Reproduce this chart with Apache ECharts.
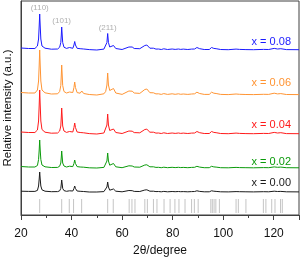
<!DOCTYPE html>
<html><head><meta charset="utf-8">
<script src="https://cdn.jsdelivr.net/npm/echarts@6/dist/echarts.min.js"></script>
<style>html,body{margin:0;padding:0;background:#fff}#c{width:300px;height:258px}</style>
</head><body><div id="c"></div>
<script>
// shared 2θ grid (degrees)
const twoTheta = [20,23,25.5,26.5,26.95,27.2,27.4,27.6,27.85,28.3,29.5,32,34.5,35.3,35.75,35.95,36.1,36.3,36.5,37.0,38.0,38.7,39.2,39.8,40.5,40.95,41.25,41.55,42.2,43.4,44.05,44.8,47,50,52.8,53.5,54.0,54.3,54.6,55.1,55.8,56.6,57.5,60,62.7,63.3,64.0,64.8,65.5,67,69.0,69.8,71,72.4,73.4,74.4,75.5,76.5,78,79.8,81,82.3,83.2,84.2,86,87.5,88.7,89.6,90.7,92.5,94.5,95.4,96.3,97.2,99,102,105.1,106.5,109,112,116,118,120.2,121.5,122.8,125,130];
// relative intensities above each pattern's own baseline (a.u.)
const int000 = [0.8,0.6,0.6,1.6,6,13,20,13,6,2.2,0.8,0.3,0.4,1.2,3.6,8,12,8,3.6,1.4,0.7,0.8,1.2,0.7,1.0,3.5,6,3.5,1.0,0.7,1.5,0.5,0,0,0.4,1.4,5,10,5,1.8,1.3,3,0.8,0.2,1.5,1,1.3,0.6,0.6,0.5,2,2.2,0.8,0.8,0.4,0.5,0.2,0.6,0.2,0.5,0.3,0.5,0.3,0.4,0.2,0.4,0.5,1.2,0.6,0.2,0.2,1.2,0.8,0.6,0.2,0.1,0.4,0.3,0.2,0.1,0.3,0.2,0.8,0.5,0.6,0.2,0.1];
const int002 = [1.5,1,1,2.5,8.5,18,28,18,8.5,3,1.2,0.5,0.6,1.8,5,11,17,11,5,2,1,1.2,1.8,1,1.4,4.5,8,4.5,1.4,1,2.2,0.8,0.2,0,0.6,2,7,15,7,2.8,2,4.5,1.2,0.3,2.2,1.5,2,1,1,0.8,3,3.2,1.2,1.2,0.6,0.7,0.3,0.8,0.3,0.7,0.4,0.7,0.4,0.6,0.3,0.6,0.7,1.7,0.9,0.3,0.3,1.7,1.1,0.9,0.3,0.2,0.6,0.4,0.3,0.2,0.4,0.3,1.1,0.7,0.9,0.3,0.2];
const int004 = [2,1.5,1.5,4,13,29,44,29,13,4.5,1.8,0.8,1,3,8,17,26,17,8,3,1.6,1.7,2.5,1.5,2,6.5,11,6.5,2,1.5,3.5,1.2,0.4,0,1,3,9,20,9,3.5,3,5,1.5,0.5,3,2,2.8,1.4,1.4,1.2,4.5,4.8,1.8,1.8,0.9,1,0.5,1.2,0.5,1,0.6,1,0.6,0.9,0.5,0.9,1,2.5,1.3,0.5,0.5,2.5,1.6,1.3,0.5,0.3,0.9,0.6,0.4,0.3,0.6,0.5,1.6,1,1.3,0.4,0.3];
const int006 = [2.5,2,2,5,14,30,45,30,14,5,2.2,1,1.2,3.5,9.5,20,30,20,9.5,3.5,2,2.2,3,2,2.5,7.5,13,7.5,2.4,1.8,4,1.5,0.5,0,1.2,3.5,10,22,10,4.5,4,6.5,2,0.6,4,2.8,3.8,2,2,1.6,5.5,6,2.3,2.2,1.1,1.2,0.6,1.4,0.6,1.2,0.7,1.2,0.7,1,0.6,1,1.2,2.8,1.5,0.6,0.6,2.8,1.8,1.5,0.6,0.4,1,0.7,0.5,0.4,0.7,0.6,1.8,1.1,1.4,0.5,0.4];
const int008 = [2,1.5,1.5,4,11,24,36,24,11,4,1.8,0.8,1,2.8,7.5,15,23,15,7.5,2.8,1.6,1.7,2.5,1.5,1.7,5,8.5,5,1.7,1.3,2.5,1,0.4,0,0.9,2.5,7.5,16.5,7.5,3,3,4.5,1.5,0.5,3,2.2,3,1.5,1.5,1.3,4.5,5,1.8,1.8,0.9,1,0.5,1.2,0.5,1,0.6,1,0.6,0.9,0.5,0.9,1,2.5,1.3,0.5,0.5,2.5,1.6,1.3,0.5,0.3,0.9,0.6,0.4,0.3,0.6,0.5,1.6,1,1.3,0.4,0.3];
const seriesNames = ['x = 0.00','x = 0.02','x = 0.04','x = 0.06','x = 0.08'];
// reference pattern line positions (2θ)
const refLines = [27.4,36.1,39.1,40.8,44.0,54.3,56.5,62.8,63.9,65.1,69.0,70.0,72.4,73.8,76.6,79.0,80.9,82.5,84.9,87.5,88.6,90.1,95.1,95.7,96.4,97.1,98.5,105.1,106.0,109.0,115.9,116.9,119.2,120.5,122.7,123.4];
// peak labels
const peakLabels = ['(110)','(101)','(211)'];
const peakPos = [27.4,36.1,54.3];

// layout / styling
const offsets = [23,47,81,120,165];
const colors = ['#1a1a1a','#0a9a0a','#ff1a1a','#ff9433','#1a1aff'];
const labelY = [183,162,125,83,42];
const ints = [int000,int002,int004,int006,int008];

const chart = echarts.init(document.getElementById('c'), null, {renderer:'canvas'});
const font = 'Liberation Sans';
const lineSeries = ints.map((arr,k)=>({
  type:'line', name:seriesNames[k],
  data: twoTheta.map((t,i)=>[t, arr[i]+offsets[k]]),
  showSymbol:false, symbol:'none', smooth:false,
  lineStyle:{color:colors[k], width:1},
  itemStyle:{color:colors[k]},
  z:3
}));
const blueIdx = peakPos.map(p=>twoTheta.indexOf(p));
const option = {
  animation:false,
  grid:{left:21, right:1, top:1, bottom:43, show:true, borderColor:'#404040', borderWidth:1,
    containLabel:false, outerBoundsMode:'none'},
  xAxis:{type:'value', min:20, max:130, interval:20,
    axisLine:{lineStyle:{color:'#404040'}},
    axisTick:{length:5, lineStyle:{color:'#404040'}},
    minorTick:{show:true, splitNumber:2, length:3, lineStyle:{color:'#404040'}},
    splitLine:{show:false},
    axisLabel:{color:'#111', fontSize:12, fontFamily:font, margin:13, showMaxLabel:false},
    name:'2θ/degree', nameLocation:'middle', nameGap:30,
    nameTextStyle:{color:'#111', fontSize:12, fontFamily:font}},
  yAxis:{type:'value', min:0, max:214,
    axisLine:{show:true, lineStyle:{color:'#404040'}}, axisTick:{show:false}, axisLabel:{show:false}, splitLine:{show:false},
    name:'Relative intensity (a.u.)', nameLocation:'middle', nameGap:7,
    nameTextStyle:{color:'#111', fontSize:11.5, fontFamily:font}},
  graphic: seriesNames.map((n,k)=>({type:'text', x:291, y:labelY[k], z:10,
    style:{text:n, fill:colors[k], font:'11px "Liberation Sans"', textAlign:'right', textVerticalAlign:'middle'}})),
  series:[
    {type:'custom', data:refLines.map(v=>[v,2,16]),
     renderItem:(params, api)=>{
       const a = api.coord([api.value(0), api.value(1)]);
       const b = api.coord([api.value(0), api.value(2)]);
       return {type:'line', shape:{x1:a[0],y1:a[1],x2:b[0],y2:b[1]}, style:{stroke:'#c4c4c4', lineWidth:1}};
     }, z:2},
    ...lineSeries,
    {type:'scatter', symbolSize:0,
     data: peakLabels.map((n,j)=>({name:n, value:[peakPos[j], int008[blueIdx[j]]+offsets[4]]})),
     label:{show:true, position:'top', distance:2, formatter:'{b}', color:'#9a9a9a', fontSize:8, fontFamily:font},
     z:4}
  ]
};
chart.setOption(option);
</script></body></html>
